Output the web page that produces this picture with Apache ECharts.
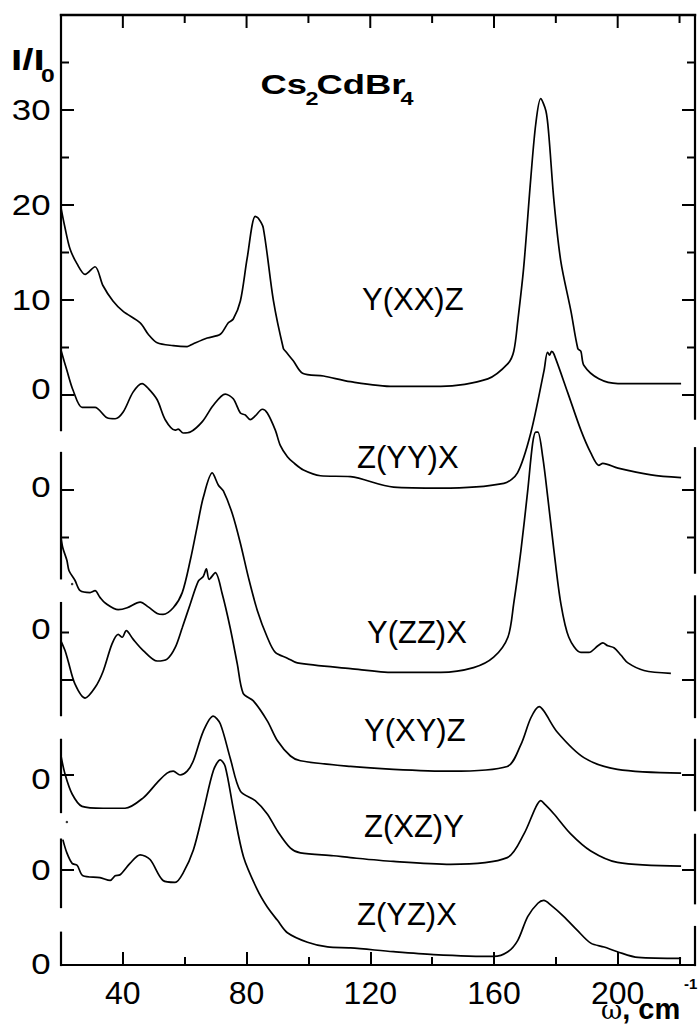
<!DOCTYPE html>
<html><head><meta charset="utf-8">
<script src="https://cdn.jsdelivr.net/npm/echarts@6/dist/echarts.min.js"></script>
<style>html,body{margin:0;padding:0;background:#fff}#c{width:698px;height:1025px}</style>
</head><body><div id="c"></div>
<script>
// ---- axis values ----
const X_MIN = 20, X_MAX = 225, Y_MIN = 0, Y_MAX = 100;
const xMajorTicks = [40, 80, 120, 160, 200];
const xMinorTicks = [60, 100, 140, 180, 220];
const yMajorTicks = [90, 80, 70, 60, 50, 30, 20, 10, 0];
const yMinorTicks = [95, 85, 75, 65, 45, 35];
const yLabelValues = [90, 80, 70, 60.6, 50.3, 35.4, 19.6, 10, 0.1];
const yLabelTexts = ['30', '20', '10', '0', '0', '0', '0', '0', '0'];
const leftSegments = [[56.3, 100], [40.7, 53.9], [26.3, 38.1], [16.1, 23.7], [6.1, 13.2], [0, 3.4]];
const rightSegments = [[57.5, 100], [41.3, 54.4], [26.1, 38.8], [16.3, 23.7], [6.5, 13.7], [0, 4.0]];

// ---- spectra: [omega cm-1, I/I0 relative to own zero] ----
const seriesNames = ['Y(XX)Z', 'Z(YY)X', 'Y(ZZ)X', 'Y(XY)Z', 'Z(XZ)Y', 'Z(YZ)X'];
const seriesOffsets = [60, 50, 30, 20, 10, 0];

const sYXXZ = [[20,19.7],[21.3,17.6],[22.9,15.4],[25.2,13.8],[27.8,12.7],[31.0,13.5],[33.6,11.5],[36.8,9.9],[40.1,8.8],[45.6,7.6],[48.2,6.4],[51.1,5.5],[56.3,5.2],[60.8,5.1],[62.8,5.4],[67.3,6.0],[71.5,6.4],[74.1,7.6],[75.7,8.0],[78.0,9.9],[80.2,14.4],[82.8,18.8],[83.8,18.6],[85.4,17.6],[88.7,9.9],[91.9,4.9],[92.6,4.6],[95.1,3.6],[98.1,2.3],[104.9,2.0],[113.6,1.4],[127.5,0.9],[142.8,0.9],[158.0,1.7],[164.5,3.3],[166.4,4.6],[167.7,7.8],[169.6,13.4],[171.9,22.8],[173.5,28.5],[175.1,31.2],[176.8,29.9],[177.7,27.5],[179.4,20.4],[181.6,14.1],[184.9,8.8],[187.1,4.9],[188.1,4.6],[189.1,3.1],[193.9,1.7],[200.1,1.2],[220.5,1.2]];

const sZYYX = [[20,14.7],[21.9,12.6],[23.9,10.5],[26.8,8.7],[29.4,8.7],[31.0,8.7],[34.9,7.6],[37.5,7.5],[40.1,8.2],[43.3,10.3],[46.2,11.2],[48.2,10.7],[51.1,9.5],[53.7,7.4],[56.9,6.3],[57.9,6.4],[59.5,6.0],[61.8,6.1],[65.7,7.2],[69.2,8.9],[73.1,10.1],[75.7,9.6],[78.0,8.1],[79.6,7.9],[81.2,7.4],[82.8,7.8],[85.1,8.5],[86.7,8.1],[89.3,6.3],[90.9,4.7],[93.2,3.5],[95.1,2.9],[98.4,2.1],[103.9,1.5],[113.6,1.4],[127.5,0.3],[142.8,0.2],[163.2,0.7],[167.6,1.8],[171.9,6.0],[176.2,12.6],[177.3,14.5],[178.0,14.2],[178.6,14.6],[179.4,14.3],[183.9,10.2],[188.1,6.3],[191.3,3.9],[193.9,2.6],[195.2,2.8],[200.1,2.3],[210.8,1.6],[220.5,1.3]];

const sYZZX = [[20,15.0],[20.6,13.9],[21.9,12.6],[22.6,11.5],[24.5,10.5],[26.2,9.4],[29.4,9.2],[31.0,9.4],[32.6,8.7],[34.3,8.1],[38.5,7.4],[41.4,7.6],[45.6,8.2],[48.2,7.7],[51.1,7.0],[53.0,6.9],[56.3,7.6],[59.2,9.2],[61.8,12.6],[64.0,16.1],[66.0,19.2],[68.9,21.8],[70.9,20.5],[72.5,19.9],[75.4,17.5],[78.0,14.4],[80.6,10.8],[83.5,7.3],[86.7,4.5],[89.3,2.9],[93.2,2.3],[96.4,1.8],[113.6,1.2],[127.5,0.8],[142.8,0.8],[153.4,1.3],[159.9,2.4],[164.5,4.5],[166.4,8.1],[168.7,13.6],[170.9,19.9],[172.5,24.9],[173.5,26.1],[174.2,26.1],[175.8,23.4],[177.4,19.2],[179.4,13.6],[181.6,8.1],[184.2,4.5],[188.1,2.9],[190.7,2.9],[193.6,3.6],[195.2,3.9],[196.8,3.6],[198.8,3.4],[201.1,2.6],[203.3,1.8],[208.5,1.0],[217.2,0.7]];

const sYXYZ = [[20,14.1],[21.3,13.1],[22.3,12.0],[24.5,9.6],[27.8,8.1],[31.0,9.2],[33.6,10.9],[36.5,13.8],[38.5,14.8],[39.8,14.5],[41.1,15.2],[43.3,14.3],[46.6,13.1],[51.1,12.0],[54.3,12.2],[56.9,13.4],[59.2,15.5],[61.8,18.0],[64.4,20.4],[66.0,20.9],[67.0,21.7],[67.9,20.6],[69.9,21.3],[72.1,19.1],[74.7,15.5],[77.0,11.7],[78.9,8.6],[82.2,7.8],[86.7,5.7],[90.0,3.6],[94.2,2.0],[97.4,1.5],[113.6,0.9],[127.5,0.6],[146.0,0.4],[164.3,0.9],[168.7,3.2],[171.9,6.0],[174.6,7.2],[176.2,6.7],[180.5,4.5],[189.2,1.8],[199.9,0.6],[220.5,0.2]];

const sZXZY = [[20,12.0],[21.3,10.1],[23.6,8.0],[26.8,6.7],[33.6,6.5],[40.7,6.5],[46.6,7.6],[51.1,9.2],[54.3,10.2],[56.3,10.4],[58.5,10.0],[60.8,10.4],[62.8,11.5],[66.0,14.6],[69.2,16.2],[71.5,15.4],[74.7,11.8],[78.0,8.3],[82.8,7.3],[86.7,5.9],[90.0,4.1],[94.2,2.3],[97.4,1.8],[108.1,1.5],[113.6,1.3],[127.5,0.9],[146.0,0.6],[164.3,1.3],[169.7,3.8],[173.5,6.6],[175.1,7.3],[176.5,6.9],[179.4,5.9],[184.8,3.8],[191.3,2.0],[199.9,0.8],[220.5,0.4]];

const sZYZX = [[20.6,13.2],[21.9,11.8],[23.6,10.7],[25.2,10.5],[27.1,9.4],[32.6,9.2],[35.9,8.9],[37.5,9.4],[39.1,9.5],[42.3,10.7],[45.6,11.6],[48.8,11.1],[53.0,8.9],[56.9,8.7],[59.5,9.7],[62.8,12.1],[66.1,16.3],[69.3,20.5],[71.5,21.6],[73.1,20.9],[75.8,16.3],[79.0,11.4],[83.5,7.9],[86.7,6.1],[90.0,4.7],[93.2,3.4],[99.7,2.4],[106.2,1.9],[113.6,1.8],[127.5,1.4],[140.5,1.1],[159.9,0.9],[164.5,1.4],[167.7,2.6],[170.9,5.1],[174.2,6.5],[176.1,6.8],[178.4,6.3],[182.6,5.1],[186.8,3.7],[191.3,2.3],[195.6,1.9],[199.9,1.4],[206.6,0.8],[220.5,0.7]];

const specks = [[23.6, 40.1], [21.9, 15.05]];

const spectra = [sYXXZ, sZYYX, sYZZX, sYXYZ, sZXZY, sZYZX];

// ---- styling ----
const FONT = '"Liberation Sans", Arial, Helvetica, sans-serif';
const BLACK = '#000';

const chart = echarts.init(document.getElementById('c'), null, {renderer: 'svg'});

function xAxisDef(ticks, len, withLabel, withLine) {
  return {
    type: 'value', min: X_MIN, max: X_MAX, position: 'bottom',
    axisLine: {show: withLine, onZero: false, lineStyle: {color: BLACK, width: 2}},
    axisTick: {show: true, inside: true, length: len, customValues: ticks, lineStyle: {color: BLACK, width: 2}},
    axisLabel: withLabel ? {show: true, customValues: ticks, fontSize: 32, lineHeight: 22, color: BLACK, fontFamily: FONT, margin: 17} : {show: false},
    splitLine: {show: false}
  };
}

const lineSeries = spectra.map((arr, i) => ({
  name: seriesNames[i],
  type: 'line',
  data: arr.map(p => [p[0], p[1] + seriesOffsets[i]]),
  showSymbol: false,
  symbol: 'none',
  smooth: 0.3,
  lineStyle: {color: BLACK, width: 1.7},
  itemStyle: {color: BLACK},
  z: 3,
  animation: false
}));

const segData = leftSegments.map(s => [0, s[0], s[1]]).concat(rightSegments.map(s => [1, s[0], s[1]]));
const yTickData = [];
[0, 1].forEach(side => {
  yMajorTicks.forEach(v => yTickData.push([side, v, 1]));
  yMinorTicks.forEach(v => yTickData.push([side, v, 0]));
});
const xTopTickData = xMajorTicks.map(v => [v, 1]).concat(xMinorTicks.map(v => [v, 0]));

const frameSeries = [
  {
    type: 'custom', name: 'frame', clip: false, silent: true, z: 5, animation: false,
    data: segData,
    renderItem: (params, api) => {
      const xv = api.value(0) === 0 ? X_MIN : X_MAX;
      const p0 = api.coord([xv, api.value(1)]);
      const p1 = api.coord([xv, api.value(2)]);
      return {type: 'line', shape: {x1: p0[0], y1: p0[1], x2: p1[0], y2: p1[1]},
              style: {stroke: BLACK, lineWidth: 2.2, lineCap: 'square'}};
    }
  },
  {
    type: 'custom', name: 'topline', clip: false, silent: true, z: 5, animation: false,
    data: [[X_MIN, X_MAX]],
    renderItem: (params, api) => {
      const p0 = api.coord([api.value(0), Y_MAX]);
      const p1 = api.coord([api.value(1), Y_MAX]);
      return {type: 'line', shape: {x1: p0[0], y1: p0[1], x2: p1[0], y2: p1[1]},
              style: {stroke: BLACK, lineWidth: 2.4, lineCap: 'square'}};
    }
  },
  {
    type: 'custom', name: 'xtopticks', clip: false, silent: true, z: 5, animation: false,
    data: xTopTickData,
    renderItem: (params, api) => {
      const p = api.coord([api.value(0), Y_MAX]);
      const len = api.value(1) ? 13 : 8;
      return {type: 'line', shape: {x1: p[0], y1: p[1], x2: p[0], y2: p[1] + len},
              style: {stroke: BLACK, lineWidth: 2}};
    }
  },
  {
    type: 'custom', name: 'yticks', clip: false, silent: true, z: 5, animation: false,
    data: yTickData,
    renderItem: (params, api) => {
      const side = api.value(0);
      const xv = side === 0 ? X_MIN : X_MAX;
      const p = api.coord([xv, api.value(1)]);
      const len = api.value(2) ? 13 : 8;
      const dir = side === 0 ? 1 : -1;
      return {type: 'line', shape: {x1: p[0], y1: p[1], x2: p[0] + dir * len, y2: p[1]},
              style: {stroke: BLACK, lineWidth: 2}};
    }
  },
  {
    type: 'custom', name: 'ylabels', clip: false, silent: true, z: 5, animation: false,
    data: yLabelValues.map(v => [v]),
    renderItem: (params, api) => {
      const p = api.coord([X_MIN, api.value(0)]);
      return {type: 'text', x: p[0] - 10.5, y: p[1], scaleX: 1.2,
              style: {text: yLabelTexts[params.dataIndex], font: '29px ' + FONT, fill: BLACK,
                      textAlign: 'right', align: 'right', textVerticalAlign: 'middle', verticalAlign: 'middle'}};
    }
  },
  {
    type: 'scatter', name: 'specks', data: specks, symbolSize: 2.5, silent: true,
    itemStyle: {color: BLACK}, z: 4, animation: false
  }
];

function txt(text, x, y, font, sx, lh) {
  const st = {text: text, font: font, fill: BLACK,
              textAlign: 'left', align: 'left',
              textVerticalAlign: 'middle', verticalAlign: 'middle'};
  if (lh) st.lineHeight = lh;
  return {type: 'text', x: x, y: y, scaleX: sx || 1, z: 10, silent: true, style: st};
}

const seriesLabelPos = [[362, 299], [357, 457], [367, 632], [364, 730], [364, 826], [357, 914]];

// x-axis title as one rich text: serif omega + bold ", cm"
const xTitle = {
  type: 'text', x: 601, y: 1023, z: 10, silent: true,
  style: {
    text: '{w|\u03c9}{c|, cm}',
    fill: BLACK, align: 'left', textAlign: 'left', verticalAlign: 'bottom', textVerticalAlign: 'bottom',
    rich: {
      w: {font: '26px "DejaVu Serif", "Liberation Serif", serif', fill: BLACK, verticalAlign: 'bottom', lineHeight: 14},
      c: {font: 'bold 29px ' + FONT, fill: BLACK, verticalAlign: 'bottom', lineHeight: 14}
    }
  }
};

const graphics = [
  txt('I/I', 11, 60, 'bold 30px ' + FONT, 1.35),
  txt('0', 41, 76, 'bold 19px ' + FONT, 1.3),
  txt('Cs', 260.5, 85, 'bold 28px ' + FONT, 1.3),
  txt('2', 305.5, 98.5, 'bold 18px ' + FONT, 1.3),
  txt('CdBr', 316.5, 85, 'bold 28px ' + FONT, 1.3),
  txt('4', 400.5, 98.5, 'bold 18px ' + FONT, 1.3),
  xTitle,
  txt('-1', 684, 983, 'bold 15px ' + FONT, 1, 12)
].concat(seriesNames.map((n, i) => txt(n, seriesLabelPos[i][0], seriesLabelPos[i][1], '31px ' + FONT, 1)));

chart.setOption({
  animation: false,
  backgroundColor: '#fff',
  grid: {left: 61, top: 15, width: 634, height: 950, containLabel: false},
  xAxis: [
    xAxisDef(xMajorTicks, 13, true, true),
    xAxisDef(xMinorTicks, 8, false, false)
  ],
  yAxis: {type: 'value', min: Y_MIN, max: Y_MAX, show: false},
  series: lineSeries.concat(frameSeries),
  graphic: graphics
});
</script></body></html>
